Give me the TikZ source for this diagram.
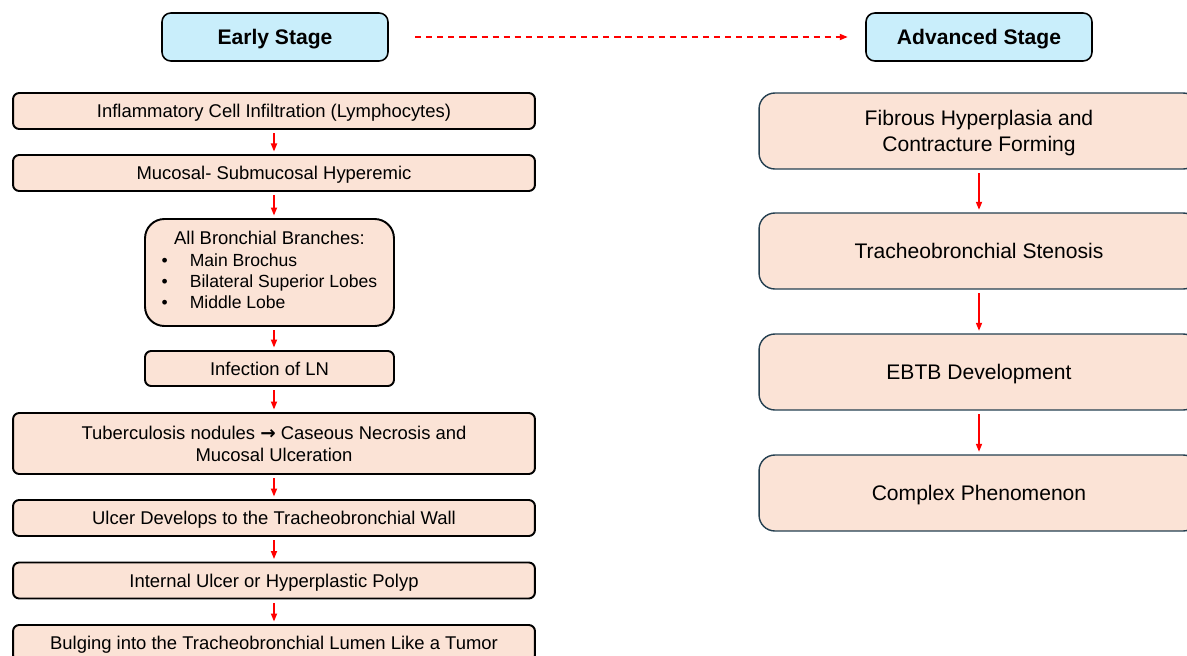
\documentclass[tikz,border=0pt]{standalone}
\usepackage{fontspec}
\setmainfont{Liberation Sans}
\newfontfamily\arrowfont{DejaVu Sans}
\usetikzlibrary{arrows.meta}
\definecolor{peach}{HTML}{FBE3D6}
\definecolor{skyblue}{HTML}{C9EEFB}
\definecolor{slate}{HTML}{243F50}

\begin{document}
\begin{tikzpicture}[x=0.02cm,y=-0.02cm,
    stage/.style={draw=black,line width=0.9pt,fill=skyblue,rounded corners=5pt,minimum width=4.52cm,minimum height=0.96cm,inner sep=0pt,text depth=0pt,font=\fontsize{12}{14}\selectfont\bfseries},
    early/.style={draw=black,line width=1.1pt,fill=peach,rounded corners=3.5pt,minimum width=10.44cm,minimum height=0.72cm,inner sep=0pt,text depth=0pt,align=center,font=\fontsize{10.5}{12.6}\selectfont},
    late/.style={draw=slate,line width=0.8pt,fill=peach,rounded corners=9pt,minimum width=8.8cm,minimum height=1.52cm,inner sep=0pt,text depth=0pt,align=center,font=\fontsize{12}{15}\selectfont},
    flow/.style={red,line width=0.7pt,-{Triangle[length=4.5pt,width=3.5pt]},shorten <=2pt,shorten >=1.5pt}]
	\useasboundingbox (0,0) rectangle (1187,656);
	\clip (0,0) rectangle (1187,656);
    % stage headings
    \node[stage] (early) at (275,37) {Early Stage};
    \node[stage] (advanced) at (979,37) {Advanced Stage};
    \draw[red,line width=0.8pt,dash pattern=on 3.5pt off 2.8pt,-{Triangle[length=4.5pt,width=3.5pt]},shorten <=15pt,shorten >=10pt] (early) -- (advanced);
    % early stage
    \node[early] (e1) at (274,111) {Inflammatory Cell Infiltration (Lymphocytes)};
    \node[early] (e2) at (274,173) {Mucosal- Submucosal Hyperemic};
    \node[early,text depth={},minimum width=4.98cm,minimum height=2.14cm,rounded corners=11pt,font=\fontsize{10}{12.1}\selectfont] (e3) at (269.5,272.5)
        {\begin{tabular}{@{}l@{\hspace{12.5pt}}l@{}}
            \multicolumn{2}{@{}c@{}}{\fontsize{10.5}{12.1}\selectfont All Bronchial Branches:}\\
            \textbullet & Main Brochus\\
            \textbullet & Bilateral Superior Lobes\\
            \textbullet & Middle Lobe
        \end{tabular}};
    \node[early,minimum width=4.98cm,minimum height=0.7cm] (e4) at (269.5,368.5) {Infection of LN};
    \node[early,minimum height=1.22cm] (e5) at (274,443.5) {Tuberculosis nodules {\arrowfont\bfseries →} Caseous Necrosis and\\Mucosal Ulceration};
    \node[early] (e6) at (274,518) {Ulcer Develops to the Tracheobronchial Wall};
    \node[early] (e7) at (274,580.5) {Internal Ulcer or Hyperplastic Polyp};
    \node[early] (e8) at (274,643) {Bulging into the Tracheobronchial Lumen Like a Tumor};
    \draw[flow] (e1) -- (e1 |- e2.north);
    \draw[flow] (e2) -- (e2 |- e3.north);
    \draw[flow] (e2 |- e3.south) -- (e2 |- e4.north);
    \draw[flow] (e2 |- e4.south) -- (e5);
    \draw[flow] (e5) -- (e6);
    \draw[flow] (e6) -- (e7);
    \draw[flow] (e7) -- (e8);
    % advanced stage
    \node[late] (l1) at (979,131) {Fibrous Hyperplasia and\\Contracture Forming};
    \node[late] (l2) at (979,251) {Tracheobronchial Stenosis};
    \node[late] (l3) at (979,372) {EBTB Development};
    \node[late] (l4) at (979,493) {Complex Phenomenon};
    \draw[flow] (l1) -- (l2);
    \draw[flow] (l2) -- (l3);
    \draw[flow] (l3) -- (l4);
\end{tikzpicture}
\end{document}
